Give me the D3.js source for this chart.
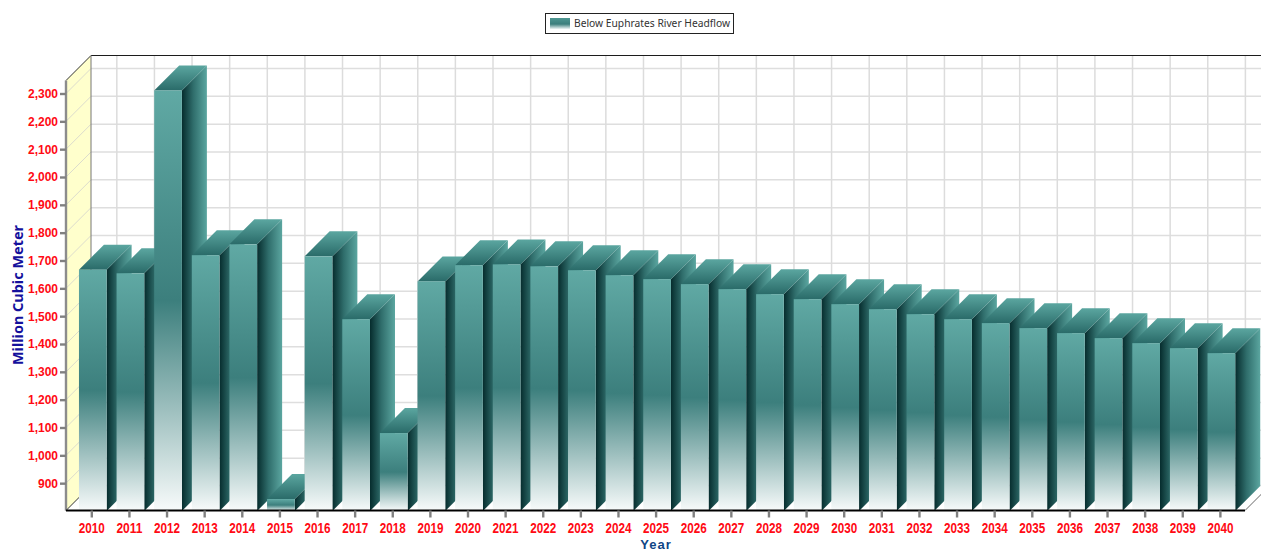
<!DOCTYPE html>
<html>
<head>
<meta charset="utf-8">
<title>Below Euphrates River Headflow</title>
<script src="https://cdn.jsdelivr.net/npm/d3@7/dist/d3.min.js"></script>
<style>
html, body { margin: 0; padding: 0; background: #fff; overflow: hidden; }
svg { display: block; }
</style>
</head>
<body>
<script>
// Headflow per year, in million cubic metres
const years = [2010,2011,2012,2013,2014,2015,2016,2017,2018,2019,2020,2021,2022,2023,2024,2025,
  2026,2027,2028,2029,2030,2031,2032,2033,2034,2035,2036,2037,2038,2039,2040];
const headflow = [1667,1654,2311,1719,1758,843,1715,1489,1080,1625,1683,1686,1679,1665,1647,1633,
  1615,1597,1579,1561,1543,1525,1507,1489,1475,1457,1439,1421,1403,1385,1367];
const valueTicks = [900,1000,1100,1200,1300,1400,1500,1600,1700,1800,1900,2000,2100,2200,2300];
const seriesName = "Below Euphrates River Headflow";

const chartW = 1261, chartH = 551;
const depth = 25;              // oblique offset of the 3D box, in pixels
const plotL = 66, plotR = 1245, plotB = 510.5, plotT = 80.5;

const x = d3.scaleBand().domain(years).range([74, 1240.2]).paddingInner(0.264).paddingOuter(0.132);
const y = d3.scaleLinear().domain([800, 2300]).range([511, 93.5]);

const svg = d3.select("body").append("svg").attr("width", chartW).attr("height", chartH);
const defs = svg.append("defs");

function gradient(id, x2, y2, stops) {
  const g = defs.append("linearGradient").attr("id", id)
    .attr("x1", 0).attr("y1", 0).attr("x2", x2).attr("y2", y2);
  stops.forEach(([o, c]) => g.append("stop").attr("offset", o).attr("stop-color", c));
}
gradient("front", 0, 1, [[0, "#60a9a4"], [0.5, "#3c7f7d"], [1, "#f8fbfb"]]);
gradient("side", 1, 0, [[0, "#062c2d"], [0.45, "#2f6d6b"], [1, "#5ba6a0"]]);
gradient("lid", 0, 1, [[0, "#5ba6a0"], [1, "#2a6b69"]]);
gradient("swatch", 0, 1, [[0, "#4f9792"], [0.55, "#3c7f7d"], [1, "#eef5f5"]]);

const line = (x1, y1, x2, y2, stroke, w) => svg.append("line")
  .attr("x1", x1).attr("y1", y1).attr("x2", x2).attr("y2", y2)
  .attr("stroke", stroke).attr("stroke-width", w);
const pts = a => a.map(p => p.join(",")).join(" ");

// Left wall of the box
svg.append("polygon")
  .attr("points", pts([[plotL, plotT], [plotL + depth, plotT - depth], [plotL + depth, plotB - depth], [plotL, plotB]]))
  .attr("fill", "#ffffcc");

// Back wall and side wall grid
valueTicks.forEach(v => {
  line(plotL, y(v), plotL + depth, y(v) - depth, "#dcdccc", 1);
  line(plotL + depth, y(v) - depth, chartW, y(v) - depth, "#dedede", 1.5);
});
line(plotL + depth, plotB - depth, chartW, plotB - depth, "#dedede", 1.5);
years.forEach(d => {
  const cx = x(d) + x.bandwidth() / 2 - 1 + depth;
  line(cx, plotT - depth, cx, plotB - depth, "#dcdcdc", 1.5);
});

// Box outline
line(plotL + depth, plotT - depth, chartW, plotT - depth, "#1c1c1c", 1);
line(plotL, plotT, plotL + depth, plotT - depth, "#333", 1);
line(plotL + depth, plotT - depth, plotL + depth, plotB - depth, "#777", 1);
line(plotL, plotB, plotL + depth, plotB - depth, "#333", 1);
line(plotR, plotB, plotR + depth, plotB - depth, "#666", 1);

// Bars, left to right so each one overlaps its neighbour's side face
const bars = svg.append("g").selectAll("g").data(years).join("g");
bars.each(function (d, i) {
  const g = d3.select(this);
  const x0 = x(d), x1 = x0 + x.bandwidth();
  const yTop = y(headflow[i]), yBase = y(800);
  g.append("polygon").attr("fill", "url(#side)")
    .attr("points", pts([[x1, yTop], [x1 + depth, yTop - depth], [x1 + depth, yBase - depth], [x1, yBase]]));
  g.append("polygon").attr("fill", "url(#lid)")
    .attr("points", pts([[x0, yTop], [x0 + depth, yTop - depth], [x1 + depth, yTop - depth], [x1, yTop]]));
  g.append("rect").attr("fill", "url(#front)")
    .attr("x", x0).attr("y", yTop).attr("width", x.bandwidth()).attr("height", yBase - yTop);
});

// Axes
const yAxis = svg.append("g").attr("transform", `translate(${plotL},0)`)
  .call(d3.axisLeft(y).tickValues(valueTicks).tickFormat(d3.format(",")).tickSize(6).tickPadding(2));
const xAxis = svg.append("g").attr("transform", `translate(-1,${plotB})`)
  .call(d3.axisBottom(x).tickSize(7).tickPadding(5.5));
yAxis.select(".domain").attr("stroke", "#8c8c8c").attr("stroke-width", 2.4).attr("d", `M0,${plotT}V${plotB}`);
xAxis.select(".domain").attr("stroke", "#000").attr("stroke-width", 2.2).attr("d", `M${plotL + 1},0H${plotR + 1}`);
svg.selectAll(".tick line").attr("stroke", "#808080").attr("stroke-width", 2.4);
yAxis.selectAll(".tick text").attr("fill", "#ff0a14")
  .style("font", "bold 12px 'Liberation Sans', Arial, sans-serif");
xAxis.selectAll(".tick text").attr("fill", "#ff0a14")
  .attr("textLength", 26).attr("lengthAdjust", "spacingAndGlyphs")
  .style("font", "bold 14px 'Liberation Sans', Arial, sans-serif");

// Axis titles
svg.append("text").attr("transform", "translate(23,295) rotate(-90)")
  .attr("text-anchor", "middle").attr("fill", "#14109c")
  .attr("textLength", 140).attr("lengthAdjust", "spacingAndGlyphs")
  .style("font", "bold 14px 'Noto Sans', sans-serif").text("Million Cubic Meter");
svg.append("text").attr("x", 656).attr("y", 548.5)
  .attr("text-anchor", "middle").attr("fill", "#0f4585").attr("letter-spacing", "1px")
  .style("font", "bold 13px 'Liberation Sans', sans-serif").text("Year");

// Legend
svg.append("rect").attr("x", 545.5).attr("y", 13.5).attr("width", 188).attr("height", 20)
  .attr("fill", "#fff").attr("stroke", "#222").attr("stroke-width", 1);
svg.append("rect").attr("x", 550).attr("y", 18).attr("width", 20).attr("height", 11).attr("fill", "url(#swatch)");
svg.append("text").attr("x", 574).attr("y", 27).attr("fill", "#333")
  .attr("textLength", 156).attr("lengthAdjust", "spacingAndGlyphs")
  .style("font", "10px 'Noto Sans', sans-serif").text(seriesName);
</script>
</body>
</html>
